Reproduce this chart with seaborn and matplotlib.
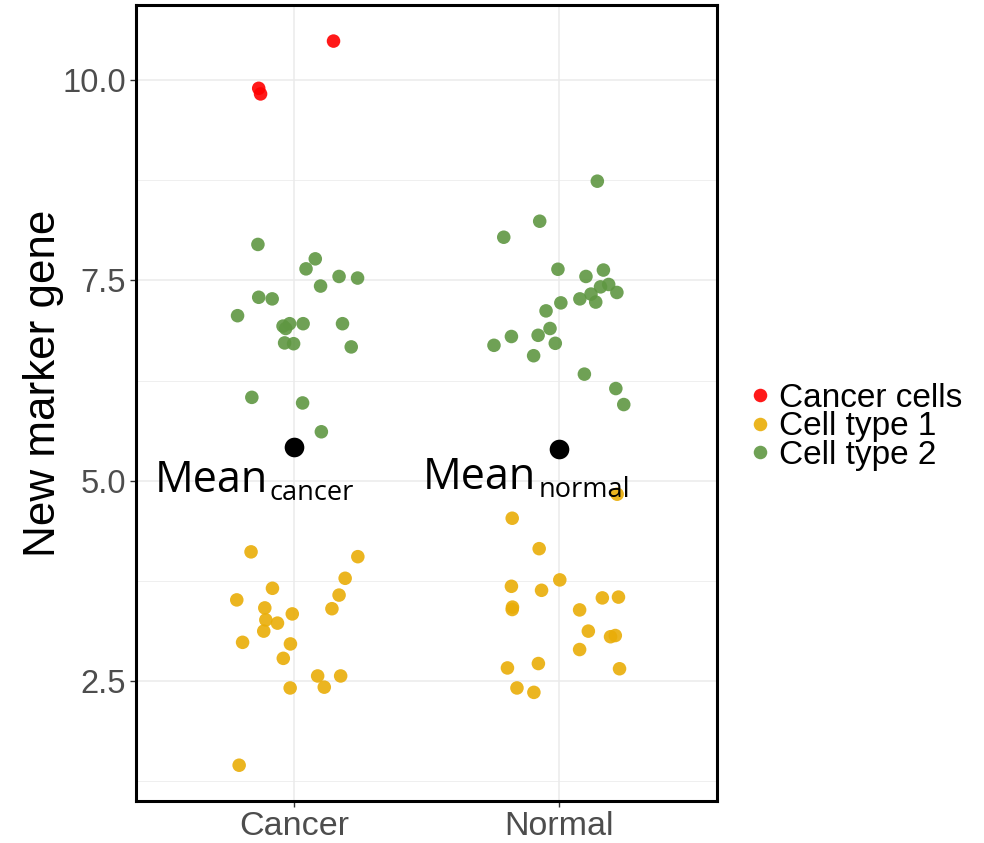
import numpy as np
import pandas as pd
import matplotlib
matplotlib.use("Agg")
import matplotlib.pyplot as plt
import seaborn as sns
from matplotlib.ticker import MultipleLocator, FormatStrFormatter

# ---------------- data ----------------
groups = ["Cancer", "Normal"]
cell_types = ["Cancer cells", "Cell type 1", "Cell type 2"]
palette = {"Cancer cells": "#FF0000", "Cell type 1": "#E9AD08", "Cell type 2": "#5F9742"}

cancer_red_y = [10.49, 9.90, 9.83]
cancer_red_dx = [0.148, -0.135, -0.128]

cancer_t1_y = [4.11, 4.05, 3.78, 3.655, 3.51, 3.57, 3.41, 3.40, 3.335, 3.26,
               3.22, 3.12, 2.98, 2.96, 2.78, 2.56, 2.56, 2.41, 2.42, 1.445]
cancer_t1_dx = [-0.164, 0.240, 0.192, -0.083, -0.218, 0.169, -0.112, 0.142, -0.008, -0.108,
                -0.064, -0.116, -0.196, -0.015, -0.042, 0.088, 0.175, -0.016, 0.113, -0.209]

cancer_t2_y = [7.95, 7.77, 7.645, 7.55, 7.53, 7.43, 7.29, 7.27, 7.06, 6.93,
               6.96, 6.90, 6.96, 6.96, 6.72, 6.71, 6.67, 6.04, 5.97, 5.61]
cancer_t2_dx = [-0.138, 0.079, 0.044, 0.169, 0.239, 0.099, -0.135, -0.084, -0.215, -0.043,
                -0.018, -0.033, 0.033, 0.182, -0.037, -0.003, 0.215, -0.161, 0.031, 0.102]

normal_t1_y = [4.83, 4.53, 4.15, 3.76, 3.68, 3.63, 3.535, 3.545, 3.42, 3.39,
               3.385, 3.12, 3.05, 3.065, 2.89, 2.66, 2.715, 2.65, 2.41, 2.355]
normal_t1_dx = [0.221, -0.176, -0.074, 0.004, -0.179, -0.065, 0.165, 0.226, -0.175, -0.176,
                0.079, 0.112, 0.196, 0.214, 0.079, -0.194, -0.077, 0.230, -0.158, -0.094]

normal_t2_y = [8.74, 8.24, 8.04, 7.64, 7.63, 7.55, 7.45, 7.42, 7.35, 7.33, 7.27, 7.23,
               7.22, 7.12, 6.90, 6.815, 6.80, 6.69, 6.715, 6.56, 6.33, 6.15, 5.95]
normal_t2_dx = [0.146, -0.072, -0.208, -0.003, 0.169, 0.103, 0.189, 0.158, 0.220, 0.122, 0.080, 0.140,
                0.008, -0.048, -0.033, -0.078, -0.179, -0.245, -0.013, -0.095, 0.097, 0.216, 0.246]

mean_y = [5.42, 5.39]
mean_labels = ["cancer", "normal"]
y_ticks = [2.5, 5.0, 7.5, 10.0]
y_label = "New marker gene"

# ---------------- build table ----------------
rows = []
def add(group, cell, ys, dxs):
    gi = groups.index(group)
    for y, dx in zip(ys, dxs):
        rows.append({"group": group, "cell": cell, "x": gi + dx, "value": y})

add("Cancer", "Cancer cells", cancer_red_y, cancer_red_dx)
add("Cancer", "Cell type 1", cancer_t1_y, cancer_t1_dx)
add("Cancer", "Cell type 2", cancer_t2_y, cancer_t2_dx)
add("Normal", "Cell type 1", normal_t1_y, normal_t1_dx)
add("Normal", "Cell type 2", normal_t2_y, normal_t2_dx)
df = pd.DataFrame(rows)
mean_df = pd.DataFrame({"x": list(range(len(groups))), "value": mean_y})

# ---------------- plot ----------------
sns.set_style("white")
plt.rcParams["font.family"] = ["Liberation Sans", "DejaVu Sans"]

fig = plt.figure(figsize=(9.84, 8.43), dpi=100)
ax = fig.add_axes([0.138, 0.050, 0.591, 0.944])

# grid
ax.set_axisbelow(True)
ax.yaxis.set_major_locator(MultipleLocator(2.5))
ax.yaxis.set_minor_locator(MultipleLocator(1.25))
ax.yaxis.set_major_formatter(FormatStrFormatter("%.1f"))
ax.grid(True, which="major", axis="both", color="#EBEBEB", linewidth=1.1)
ax.grid(True, which="minor", axis="y", color="#EBEBEB", linewidth=0.55)

sns.scatterplot(data=df, x="x", y="value", hue="cell", hue_order=cell_types,
                palette=palette, s=95, alpha=0.9, linewidth=0, ax=ax, zorder=3)
sns.scatterplot(data=mean_df, x="x", y="value", color="black", s=200,
                linewidth=0, ax=ax, zorder=4, legend=False)

# Mean labels with subscripts
label_dx = [-0.53, -0.513]
label_y = [4.86, 4.90]
for gi, (sub, dx, ly) in enumerate(zip(mean_labels, label_dx, label_y)):
    t = ax.text(gi + dx, ly, "Mean", family=["Open Sans", "DejaVu Sans"],
                fontsize=31, ha="left", va="baseline", color="black", zorder=5)
    ax.annotate(sub, xy=(1, 0), xycoords=t, xytext=(1.5, 2.0), textcoords="offset points",
                family=["Open Sans", "DejaVu Sans"], fontsize=19.5, ha="left",
                va="baseline", color="black", zorder=5)

ax.set_xlim(-0.6, 1.6)
ax.set_ylim(1.0, 10.94)
ax.set_xticks(range(len(groups)))
ax.set_xticklabels(groups)
ax.set_xlabel("")
ax.set_ylabel(y_label, fontsize=31.7, color="black")
ax.yaxis.set_label_coords(-0.124, 0.525)

ax.tick_params(axis="both", which="major", length=4, width=1, color="#333333",
               labelsize=23.5, labelcolor="#4D4D4D", pad=3, left=True, bottom=True)
ax.tick_params(axis="x", which="major", labelsize=24.5)
ax.tick_params(axis="y", which="minor", length=0)

for sp in ax.spines.values():
    sp.set_visible(True)
    sp.set_color("black")
    sp.set_linewidth(2.2)

# legend
handles, labels = ax.get_legend_handles_labels()
ax.get_legend().remove()
leg = fig.legend(handles, labels, loc="center left", bbox_to_anchor=(0.761, 0.4935),
                 frameon=False, fontsize=24, handletextpad=0.2, handlelength=0.7,
                 labelspacing=-0.08, borderpad=0, borderaxespad=0, markerscale=1.0,
                 labelcolor="black")
for h in leg.legend_handles:
    h.set_alpha(0.9)

fig.savefig("out.png", dpi=100)
